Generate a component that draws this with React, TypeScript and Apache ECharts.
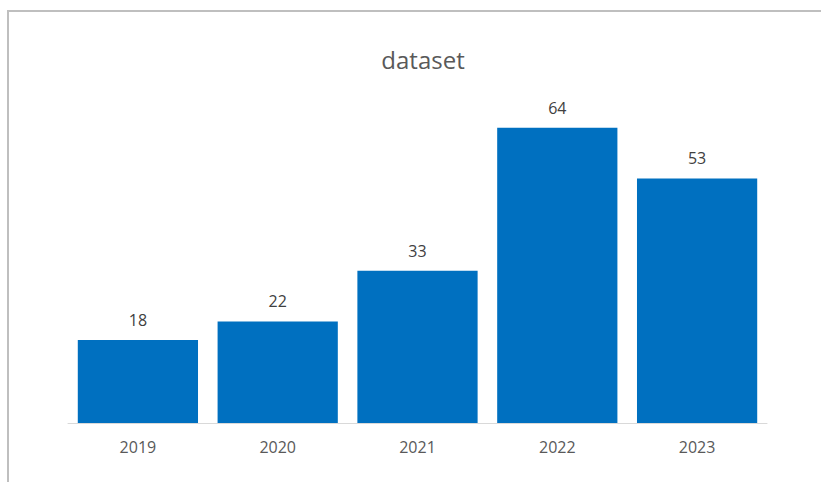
import React, { useEffect, useRef } from "react";
import * as echarts from "echarts";

const categories = ["2019", "2020", "2021", "2022", "2023"];
const values = [18, 22, 33, 64, 53];
const titleText = "dataset";

export default function App() {
  const ref = useRef<HTMLDivElement>(null);
  useEffect(() => {
    if (!ref.current) return;
    const chart = echarts.init(ref.current, null, { renderer: "svg" });
    chart.setOption({
      animation: false,
      backgroundColor: "#ffffff",
      title: {
        text: titleText,
        left: 418,
        textAlign: "center",
        top: 42,
        textStyle: {
          fontFamily: "Open Sans",
          fontSize: 24,
          fontWeight: "normal",
          color: "#595959",
        },
      },
      graphic: [
        { type: "rect", shape: { x: 7, y: 10, width: 814, height: 2 }, style: { fill: "#bfbfbf" } },
        { type: "rect", shape: { x: 7, y: 10, width: 2, height: 472 }, style: { fill: "#bfbfbf" } },
      ],
      grid: { left: 68, right: 54, top: 100, bottom: 59 },
      xAxis: {
        type: "category",
        data: categories,
        axisLine: { lineStyle: { color: "#d9d9d9", width: 1 } },
        axisTick: { show: false },
        axisLabel: {
          margin: 16,
          fontFamily: "Open Sans",
          fontSize: 16,
          color: "#595959",
        },
      },
      yAxis: {
        type: "value",
        min: 0,
        max: 70,
        show: false,
        splitLine: { show: false },
      },
      series: [
        {
          type: "bar",
          data: values,
          barCategoryGap: "14%",
          itemStyle: { color: "#0070c0" },
          label: {
            show: true,
            position: "top",
            distance: 12,
            fontFamily: "Open Sans",
            fontSize: 16,
            color: "#404040",
          },
        },
      ],
    });
    return () => chart.dispose();
  }, []);
  return (
    <div
      ref={ref}
      style={{ position: "fixed", left: 0, top: 0, width: 821, height: 482 }}
    />
  );
}
